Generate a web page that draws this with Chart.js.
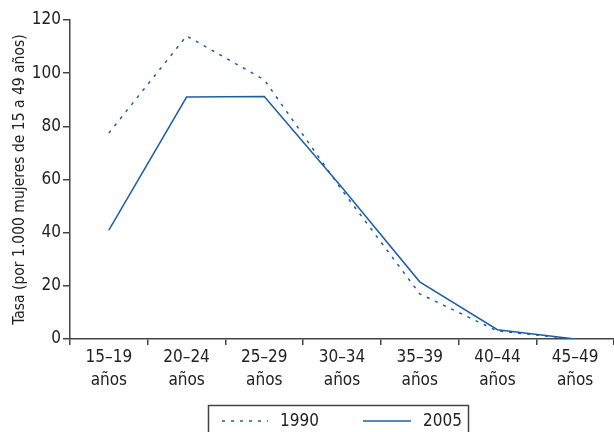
<!DOCTYPE html>
<html>
<head>
<meta charset="utf-8">
<script src="https://cdn.jsdelivr.net/npm/chart.js@4"></script>
<style>
  html, body { margin: 0; padding: 0; background: #fff; }
  #wrap { width: 614px; height: 432px; }
</style>
</head>
<body>
<div id="wrap"><canvas id="tasaChart" width="614" height="432"></canvas></div>
<script>
const categories = [['15–19', 'años'], ['20–24', 'años'], ['25–29', 'años'], ['30–34', 'años'],
                    ['35–39', 'años'], ['40–44', 'años'], ['45–49', 'años']];
const tasa1990 = [77.5, 114, 97.5, 56, 17, 3, 0];
const tasa2005 = [41, 91, 91.2, 57, 21.5, 3.5, 0];
const yTicks = [0, 20, 40, 60, 80, 100, 120];

const FONT = "'DejaVu Sans Condensed', 'Liberation Sans Narrow', sans-serif";
const blue = '#1d5ea8';

// legend drawn in a box under the axis, like the original
const boxLegend = {
    id: 'boxLegend',
    afterDraw(chart) {
        const c = chart.ctx;
        c.save();
        c.strokeStyle = '#444';
        c.lineWidth = 1.5;
        c.strokeRect(208.5, 405.5, 260, 40);
        const items = [
            { ds: chart.data.datasets[0], x0: 222, x1: 268, tx: 280 },
            { ds: chart.data.datasets[1], x0: 363, x1: 411, tx: 423 }
        ];
        items.forEach(it => {
            c.strokeStyle = it.ds.borderColor;
            c.lineWidth = it.ds.borderWidth;
            c.setLineDash(it.ds.borderDash || []);
            c.beginPath();
            c.moveTo(it.x0, 421);
            c.lineTo(it.x1, 421);
            c.stroke();
            c.setLineDash([]);
            c.fillStyle = '#222';
            c.font = '17px ' + FONT;
            c.textBaseline = 'middle';
            c.fillText(it.ds.label, it.tx, 422);
        });
        c.restore();
    }
};

const ctx = document.getElementById('tasaChart').getContext('2d');
new Chart(ctx, {
    type: 'line',
    data: {
        labels: categories,
        datasets: [{
            label: '1990',
            data: tasa1990,
            borderColor: blue,
            borderWidth: 1.5,
            borderDash: [3, 6],
            pointRadius: 0,
            tension: 0
        }, {
            label: '2005',
            data: tasa2005,
            borderColor: blue,
            borderWidth: 1.5,
            pointRadius: 0,
            tension: 0
        }]
    },
    options: {
        responsive: false,
        animation: false,
        layout: { padding: { top: 20, right: 0, bottom: 0, left: 0 } },
        plugins: {
            legend: { display: false },
            tooltip: { enabled: false }
        },
        scales: {
            x: {
                offset: true,
                grid: { offset: true, drawOnChartArea: false, color: '#444', lineWidth: 1.5, tickLength: 6 },
                border: { color: '#444', width: 1.5 },
                ticks: { color: '#222', font: { family: FONT, size: 17, lineHeight: 1.35 }, padding: 1, maxRotation: 0, autoSkip: false },
                afterFit(scale) { scale.height = 93; }
            },
            y: {
                min: 0,
                max: 120,
                afterBuildTicks(scale) { scale.ticks = yTicks.map(v => ({ value: v })); },
                grid: { drawOnChartArea: false, color: '#444', lineWidth: 1.5, tickLength: 7 },
                border: { color: '#444', width: 1.5 },
                ticks: { color: '#222', font: { family: FONT, size: 17 }, padding: 2 },
                title: {
                    display: true,
                    text: 'Tasa (por 1.000 mujeres de 15 a 49 años)',
                    color: '#222',
                    font: { family: FONT, size: 15.5 },
                    padding: { top: 11, bottom: 0 }
                },
                afterFit(scale) { scale.width = 70; }
            }
        }
    },
    plugins: [boxLegend]
});
</script>
</body>
</html>
